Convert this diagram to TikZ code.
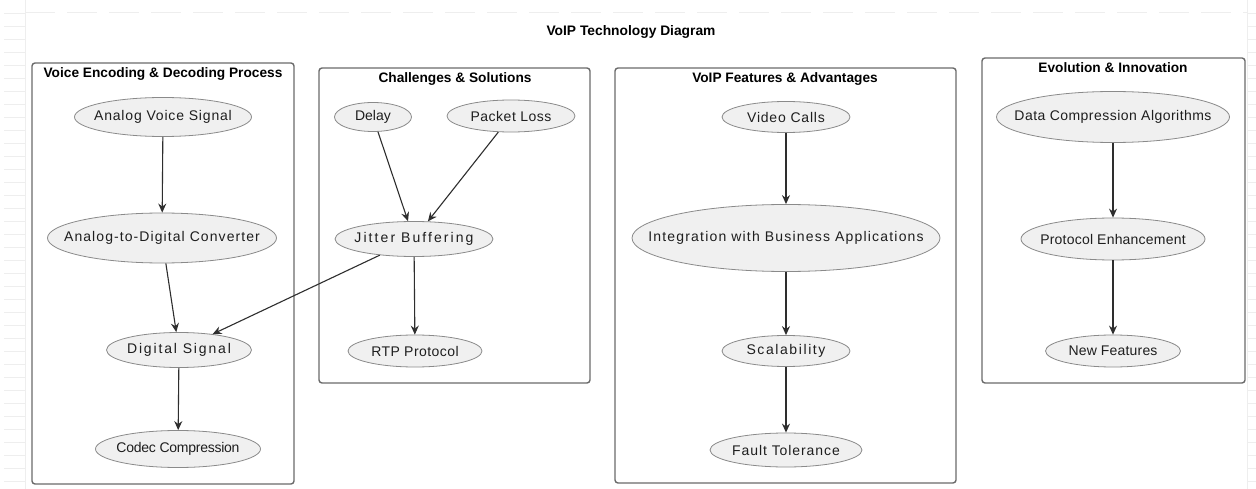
\documentclass[tikz,border=0pt]{standalone}
\usepackage{fontspec}
\setmainfont{Liberation Sans}
\usetikzlibrary{shapes.geometric,arrows.meta}
\definecolor{nodefill}{HTML}{F0F0F0}
\definecolor{nodeline}{HTML}{8A8A8A}
\definecolor{boxline}{HTML}{6B6B6B}
\definecolor{edgecol}{HTML}{2E2E2E}
\definecolor{txt}{HTML}{1E1E1E}
\definecolor{gridcol}{HTML}{EEEEEE}
% label with its own letter spacing; the ellipse size comes from the node options only
\newcommand{\lbl}[2]{\raisebox{-1.5pt}{\makebox[0pt]{\addfontfeature{LetterSpace=#1}#2}}}
\tikzset{
  oval/.style={ellipse, draw=nodeline, fill=nodefill, line width=0.8pt, inner sep=0pt,
    text=txt, font=\fontsize{14}{16}\selectfont},
  group/.style={draw=boxline, line width=1.4pt, rounded corners=3pt},
  grouptitle/.style={font=\bfseries\fontsize{13.7}{15}\selectfont, text=black},
  flow/.style={draw=edgecol, line width=1.1pt, -{Stealth[length=9pt,width=8pt,inset=3pt]}},
}
\begin{document}
\begin{tikzpicture}[x=1pt,y=-1pt]
\useasboundingbox (0,0) rectangle (1256,489);
\fill[white] (0,0) rectangle (1256,489);
% faint canvas grid in the side margins
\foreach \y in {13,26,...,489} {
  \draw[gridcol, line width=0.6pt] (4,\y) -- (25,\y);
  \draw[gridcol, line width=0.6pt] (1247,\y) -- (1256,\y);
}
\draw[gridcol, line width=0.6pt] (25,0) -- (25,489);
\draw[gridcol, line width=0.6pt] (1247,0) -- (1247,489);
\draw[gridcol, line width=0.6pt, dash pattern=on 30pt off 12pt] (25,12) -- (1247,12);

% diagram title
\node[font=\bfseries\fontsize{13.8}{15}\selectfont] (title) at (631,32) {VoIP Technology Diagram};

% groups
\draw[group] (32,63) rectangle (294,484);
\node[grouptitle] (t1) at (163,74) {Voice Encoding \& Decoding Process};
\draw[group] (319,68) rectangle (590,383);
\node[grouptitle] (t2) at (455,79) {Challenges \& Solutions};
\draw[group] (615,68) rectangle (956,483);
\node[grouptitle] (t3) at (785,79) {VoIP Features \& Advantages};
\draw[group] (982,58) rectangle (1245,383);
\node[grouptitle] (t4) at (1113,68) {Evolution \& Innovation};

% voice encoding
\node[oval, minimum width=177pt, minimum height=39pt] (avs) at (163,117) {\lbl{5.9}{Analog Voice Signal}};
\node[oval, minimum width=229pt, minimum height=50pt] (adc) at (162,238) {\lbl{7.7}{Analog-to-Digital Converter}};
\node[oval, minimum width=145pt, minimum height=35pt] (ds) at (179,350) {\lbl{13.2}{Digital Signal}};
\node[oval, minimum width=165pt, minimum height=37pt] (cc) at (178,449) {\lbl{-1.8}{Codec Compression}};

% challenges
\node[oval, minimum width=77pt, minimum height=29pt] (delay) at (373,117) {\lbl{0}{Delay}};
\node[oval, minimum width=128pt, minimum height=32pt] (ploss) at (511,116) {\lbl{3.6}{Packet Loss}};
\node[oval, minimum width=158pt, minimum height=35pt] (jb) at (414,239) {\lbl{14.8}{Jitter Buffering}};
\node[oval, minimum width=134pt, minimum height=32pt] (rtp) at (415,351) {\lbl{3.2}{RTP Protocol}};

% features
\node[oval, minimum width=128pt, minimum height=31pt] (vc) at (786,117) {\lbl{5.7}{Video Calls}};
\node[oval, minimum width=308pt, minimum height=67pt] (iba) at (786,238) {\lbl{8.5}{Integration with Business Applications}};
\node[oval, minimum width=128pt, minimum height=31pt] (sc) at (786,351) {\lbl{11.4}{Scalability}};
\node[oval, minimum width=152pt, minimum height=34pt] (ft) at (786,450) {\lbl{6.6}{Fault Tolerance}};

% evolution
\node[oval, minimum width=233pt, minimum height=51pt] (dca) at (1113,117) {\lbl{3.3}{Data Compression Algorithms}};
\node[oval, minimum width=184pt, minimum height=42pt] (pe) at (1113,239) {\lbl{1.5}{Protocol Enhancement}};
\node[oval, minimum width=135pt, minimum height=32pt] (nf) at (1113,351) {\lbl{1.3}{New Features}};

% connectors
\draw[flow] (avs) -- (adc);
\draw[flow] (adc) -- (ds);
\draw[flow] (ds) -- (cc);
\draw[flow] (delay) -- (jb);
\draw[flow] (ploss) -- (jb);
\draw[flow] (jb) -- (rtp);
\draw[flow] (jb) -- (ds);
\draw[flow] (vc) -- (iba);
\draw[flow] (iba) -- (sc);
\draw[flow] (sc) -- (ft);
\draw[flow] (dca) -- (pe);
\draw[flow] (pe) -- (nf);
\end{tikzpicture}
\end{document}
